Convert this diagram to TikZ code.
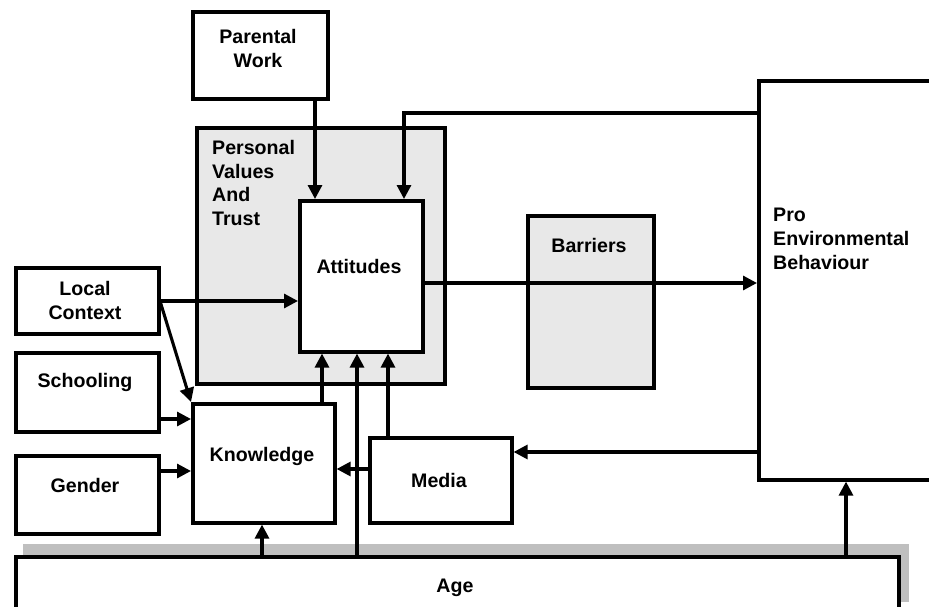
\documentclass[tikz,border=0pt]{standalone}
\usepackage{fontspec}
\setmainfont{Liberation Sans}
\usetikzlibrary{arrows.meta}
\newcommand{\lbf}{\fontsize{19.6}{23.7}\selectfont\bfseries}

\begin{document}
\begin{tikzpicture}[x=1pt,y=-1pt,
   box/.style={draw,line width=3.6pt,fill=white,anchor=north west,inner sep=0pt},
   grain/.style={box,fill=black!9},
   lbl/.style={font=\lbf,inner sep=0pt,align=center},
   >={Triangle[length=14pt,width=14pt]},
   link/.style={->,line width=3.1pt}]
   \useasboundingbox (0,0) rectangle (929,607);
   \clip (0,0) rectangle (929,607);
   \fill[black!25] (23,544) rectangle (909,602);
   \node[box,minimum width=135pt,minimum height=87pt]  (par) at (191,10)  {};
   \node[grain,minimum width=248pt,minimum height=256pt] (pvt) at (195,126) {};
   \node[box,minimum width=123pt,minimum height=151pt] (att) at (298,199) {};
   \node[box,minimum width=143pt,minimum height=66pt]  (loc) at (14,266)  {};
   \node[box,minimum width=143pt,minimum height=79pt]  (sch) at (14,351)  {};
   \node[box,minimum width=143pt,minimum height=78pt]  (gen) at (14,454)  {};
   \node[box,minimum width=142pt,minimum height=119pt] (kno) at (191,402) {};
   \node[box,minimum width=142pt,minimum height=85pt]  (med) at (368,436) {};
   \node[grain,minimum width=126pt,minimum height=172pt] (bar) at (526,214) {};
   \node[box,minimum width=220pt,minimum height=399pt] (pro) at (757,79)  {};
   \node[box,minimum width=883pt,minimum height=90pt]  (age) at (14,555)  {};
   \node[lbl,anchor=north] (par-t) at (258,29) {Parental\\Work};
   \node[lbl,anchor=north west,align=left] (pvt-t) at (212,140) {Personal\\Values\\And\\Trust};
   \node[lbl,anchor=base] (att-t) at (359,273) {Attitudes};
   \node[lbl,anchor=north] (loc-t) at (85,281) {Local\\Context};
   \node[lbl,anchor=base] (sch-t) at (85,387) {Schooling};
   \node[lbl,anchor=base] (gen-t) at (85,492) {Gender};
   \node[lbl,anchor=base] (kno-t) at (262,461) {Knowledge};
   \node[lbl,anchor=base] (med-t) at (439,487) {Media};
   \node[lbl,anchor=base] (bar-t) at (589,252) {Barriers};
   \node[lbl,anchor=north west,align=left] (pro-t) at (773,208) {Pro\\Environmental\\Behaviour};
   \node[lbl,anchor=base] (age-t) at (455,592) {Age};
   \draw[link] (par.south -| 315,0) -- (att.north -| 315,0);
   \draw[link] (pro.west |- 0,113) -| (att.north -| 404,0);
   \draw[link] (loc.east |- 0,301) -- (att.west |- 0,301);
   \draw[link] (loc.east |- 0,303) -- (kno.north west);
   \draw[link] (att.east |- 0,283) -- (pro.west |- 0,283);
   \draw[link] (sch.east |- 0,419) -- (kno.west |- 0,419);
   \draw[link] (gen.east |- 0,471) -- (kno.west |- 0,471);
   \draw[link] (kno.north -| 322,0) -- (att.south -| 322,0);
   \draw[link] (age.north -| 357,0) -- (att.south -| 357,0);
   \draw[link] (med.north -| 388,0) -- (att.south -| 388,0);
   \draw[link] (med.west |- 0,469) -- (kno.east |- 0,469);
   \draw[link] (pro.west |- 0,452) -- (med.east |- 0,452);
   \draw[link] (age.north -| 262,0) -- (kno.south -| 262,0);
   \draw[link] (age.north -| 846,0) -- (pro.south -| 846,0);
\end{tikzpicture}
\end{document}
